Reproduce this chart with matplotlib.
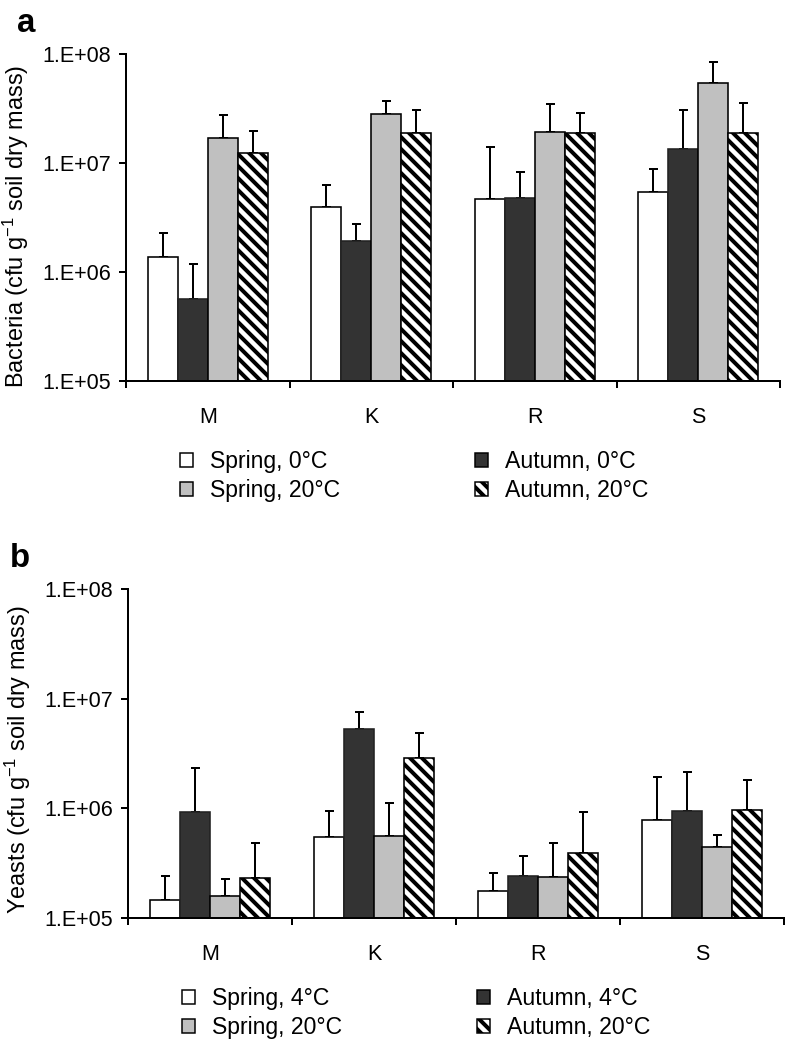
import matplotlib
matplotlib.use("Agg")
import matplotlib.pyplot as plt
import matplotlib.patches as mpatches
import numpy as np

# data (cfu per g soil dry mass)
sites = ["M", "K", "R", "S"]

bact_labels = ["Spring, 0°C", "Autumn, 0°C", "Spring, 20°C", "Autumn, 20°C"]
bact_spring_0 = [1.36e6, 3.95e6, 4.65e6, 5.4e6]
bact_autumn_0 = [5.65e5, 1.92e6, 4.75e6, 1.34e7]
bact_spring_20 = [1.68e7, 2.8e7, 1.92e7, 5.4e7]
bact_autumn_20 = [1.23e7, 1.9e7, 1.87e7, 1.9e7]
bact_spring_0_top = [2.3e6, 6.3e6, 1.4e7, 8.75e6]
bact_autumn_0_top = [1.19e6, 2.74e6, 8.3e6, 3.06e7]
bact_spring_20_top = [2.75e7, 3.7e7, 3.5e7, 8.5e7]
bact_autumn_20_top = [1.98e7, 3.06e7, 2.9e7, 3.57e7]

yeast_labels = ["Spring, 4°C", "Autumn, 4°C", "Spring, 20°C", "Autumn, 20°C"]
yeast_spring_4 = [1.44e5, 5.5e5, 1.77e5, 7.8e5]
yeast_autumn_4 = [9.2e5, 5.3e6, 2.41e5, 9.45e5]
yeast_spring_20 = [1.58e5, 5.6e5, 2.35e5, 4.4e5]
yeast_autumn_20 = [2.3e5, 2.9e6, 3.88e5, 9.7e5]
yeast_spring_4_top = [2.39e5, 9.4e5, 2.55e5, 1.92e6]
yeast_autumn_4_top = [2.35e6, 7.5e6, 3.66e5, 2.16e6]
yeast_spring_20_top = [2.25e5, 1.12e6, 4.85e5, 5.7e5]
yeast_autumn_20_top = [4.8e5, 4.9e6, 9.2e5, 1.81e6]

plt.rcParams["font.family"] = ["Liberation Sans", "DejaVu Sans"]
plt.rcParams["mathtext.fontset"] = "custom"
plt.rcParams["mathtext.rm"] = "Liberation Sans"
plt.rcParams["mathtext.default"] = "regular"
plt.rcParams["hatch.linewidth"] = 4.0

FS_TICK = 21.5
FS_LAB = 23.5
FS_LEG = 23
STYLES = [
    dict(facecolor="white", edgecolor="black", hatch=None),
    dict(facecolor="#333333", edgecolor="#222222", hatch=None),
    dict(facecolor="#c0c0c0", edgecolor="black", hatch=None),
    dict(facecolor="white", edgecolor="black", hatch="\\\\"),
]
YTICKS = [1e5, 1e6, 1e7, 1e8]
YTICKLABELS = ["1.E+05", "1.E+06", "1.E+07", "1.E+08"]


def draw_panel(ax, series, tops, ylabel, label_y):
    x = np.arange(len(sites)) + 0.5
    w = 0.183
    for i, (vals, top) in enumerate(zip(series, tops)):
        xs = x + (i - 1.5) * w
        vals = np.array(vals)
        ax.bar(xs, vals, width=w, **STYLES[i], linewidth=1.6, zorder=3)
        # only the upper half shows; the lower cap hides behind the bar
        ax.errorbar(xs, vals, yerr=[np.zeros_like(vals), np.array(top) - vals],
                    fmt="none", ecolor="black", elinewidth=2, capsize=4.5,
                    capthick=2, zorder=2)
    ax.set_yscale("log")
    ax.set_ylim(1e5, 1e8)
    ax.set_xlim(0, 4)
    ax.set_yticks(YTICKS)
    ax.set_yticklabels(YTICKLABELS, fontsize=FS_TICK)
    ax.yaxis.set_minor_locator(matplotlib.ticker.NullLocator())
    ax.set_xticks([0, 1, 2, 3, 4])
    ax.set_xticklabels([])
    ax.set_xticks(x, minor=True)
    ax.set_xticklabels(sites, minor=True, fontsize=FS_TICK)
    ax.tick_params(axis="x", which="minor", length=0, pad=26)
    ax.tick_params(axis="x", which="major", length=7, width=2, direction="out")
    ax.tick_params(axis="y", which="major", length=7, width=2, direction="out", pad=8)
    for s in ("top", "right"):
        ax.spines[s].set_visible(False)
    for s in ("left", "bottom"):
        ax.spines[s].set_linewidth(2)
        ax.spines[s].set_zorder(4)
    ax.set_ylabel(ylabel, fontsize=FS_LAB)
    ax.yaxis.set_label_coords(-0.145, label_y)


fig = plt.figure(figsize=(786 / 72, 1049 / 72), dpi=72)

ax_a = fig.add_axes([126 / 786, 1 - 381 / 1049, 654 / 786, 327 / 1049])
draw_panel(ax_a,
           [bact_spring_0, bact_autumn_0, bact_spring_20, bact_autumn_20],
           [bact_spring_0_top, bact_autumn_0_top, bact_spring_20_top, bact_autumn_20_top],
           "Bacteria (cfu g$^{-1}$ soil dry mass)", 0.474)

ax_b = fig.add_axes([128 / 786, 1 - 917.7 / 1049, 656 / 786, 328.4 / 1049])
draw_panel(ax_b,
           [yeast_spring_4, yeast_autumn_4, yeast_spring_20, yeast_autumn_20],
           [yeast_spring_4_top, yeast_autumn_4_top, yeast_spring_20_top, yeast_autumn_20_top],
           "Yeasts (cfu g$^{-1}$ soil dry mass)", 0.48)

fig.text(17 / 786, 1 - 32 / 1049, "a", fontsize=33, fontweight="bold", ha="left", va="baseline")
fig.text(10 / 786, 1 - 567 / 1049, "b", fontsize=33, fontweight="bold", ha="left", va="baseline")


def add_legend(labels, y_center, x_cols):
    # two single-column legends, one per column
    for col, xc in enumerate(x_cols):
        handles = []
        for i in (col, col + 2):
            st = STYLES[i]
            handles.append(mpatches.Patch(facecolor=st["facecolor"], edgecolor="black",
                                          hatch=st["hatch"], linewidth=1.5, label=labels[i]))
        fig.legend(handles=handles, loc="center left", bbox_to_anchor=(xc / 786, y_center),
                   frameon=False, fontsize=FS_LEG, handlelength=0.58, handleheight=0.58,
                   handletextpad=0.74, labelspacing=0.25, borderpad=0, borderaxespad=0)


add_legend(bact_labels, 1 - 476 / 1049, [180, 475])
add_legend(yeast_labels, 1 - 1013 / 1049, [181.5, 476.5])

fig.savefig("out.png", dpi=72)
